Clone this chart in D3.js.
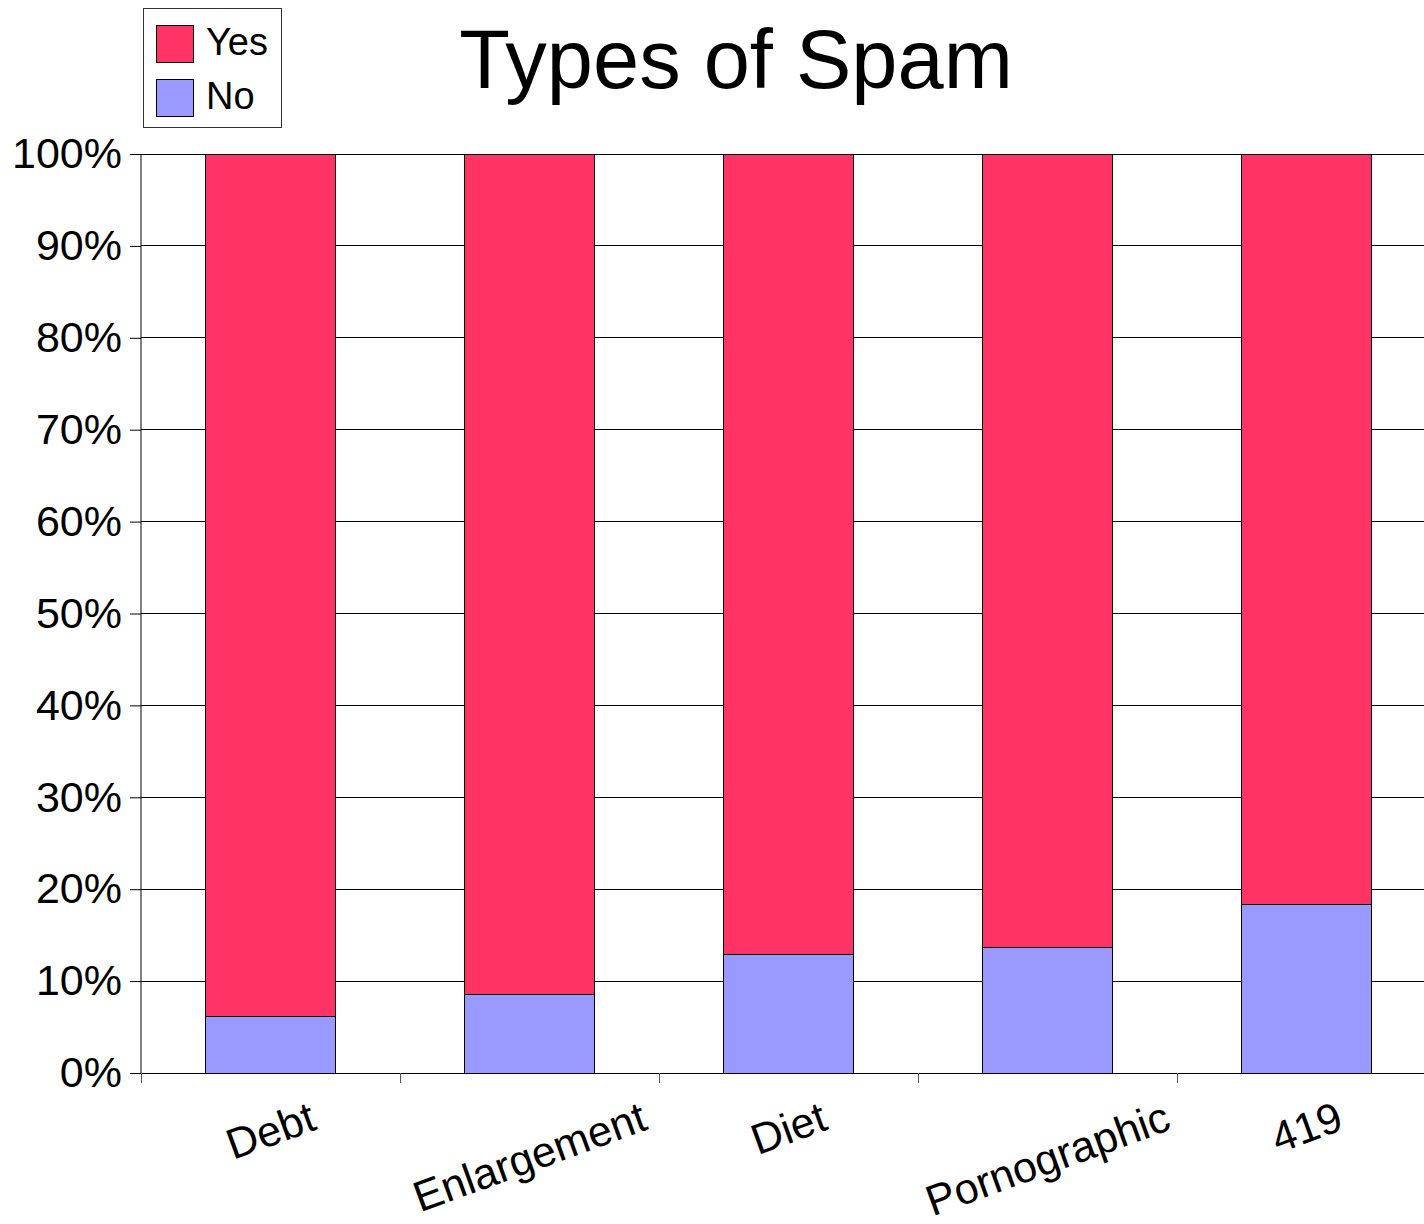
<!DOCTYPE html>
<html><head><meta charset="utf-8">
<script src="https://cdn.jsdelivr.net/npm/d3@7"></script>
<style>body{margin:0;background:#fff;} svg{display:block;font-family:"Liberation Sans",Arial,sans-serif;}</style>
</head><body>
<script>
const categories = ["Debt","Enlargement","Diet","Pornographic","419"];
const noValues = [6.1, 8.5, 12.9, 13.7, 18.3];
const yesValues = [93.9, 91.5, 87.1, 86.3, 81.7];
const seriesNames = ["Yes","No"];
const seriesColors = ["#FF3366","#9999FF"];
const yTicks = [0,10,20,30,40,50,60,70,80,90,100];
const chartTitle = "Types of Spam";

(function(){
const W=1424,H=1224;
const svg=d3.select("body").append("svg").attr("width",W).attr("height",H);
const pL=141, pR=1436, pT=154, pB=1073;
const x=d3.scaleBand().domain(categories).range([pL,pR]).paddingInner(0.5).paddingOuter(0.25);
const y=d3.scaleLinear().domain([0,100]).range([pB,pT]);

// gridlines
svg.append("g").selectAll("line").data(yTicks.filter(d=>d>0)).join("line")
  .attr("x1",pL).attr("x2",W).attr("y1",d=>y(d)).attr("y2",d=>y(d))
  .attr("stroke","#000").attr("stroke-width",1).attr("shape-rendering","crispEdges");

// bars
const rows=categories.map((c,i)=>({cat:c,No:noValues[i],Yes:yesValues[i]}));
const stack=d3.stack().keys(["No","Yes"])(rows);
const color={Yes:seriesColors[0],No:seriesColors[1]};
svg.append("g").selectAll("g").data(stack).join("g").attr("fill",d=>color[d.key])
  .selectAll("rect").data(d=>d).join("rect")
  .attr("x",d=>x(d.data.cat)).attr("width",x.bandwidth())
  .attr("y",d=>y(d[1])).attr("height",d=>y(d[0])-y(d[1]))
  .attr("stroke","#000").attr("stroke-width",1).attr("shape-rendering","crispEdges");

// y axis
const yAxis=d3.axisLeft(y).tickValues(yTicks).tickFormat(d=>d+"%").tickSize(11).tickPadding(8);
const ga=svg.append("g").attr("transform",`translate(${pL},0)`).call(yAxis);
ga.select(".domain").attr("stroke","#000").attr("d",`M0,${pT}V${pB}`);
ga.selectAll(".tick line").attr("stroke","#000");
ga.selectAll("text").attr("font-size",43).attr("fill","#000").attr("font-family","Liberation Sans, Arial, sans-serif");

// x axis baseline and ticks
svg.append("line").attr("x1",pL).attr("x2",W).attr("y1",pB).attr("y2",pB).attr("stroke","#000").attr("shape-rendering","crispEdges");
const step=x.step();
const bounds=d3.range(categories.length+1).map(i=>pL+i*step);
svg.append("g").selectAll("line").data(bounds).join("line")
  .attr("x1",d=>d).attr("x2",d=>d).attr("y1",pB).attr("y2",pB+10)
  .attr("stroke","#555").attr("shape-rendering","crispEdges");

// x labels rotated
const ang=-20, rad=Math.abs(ang)*Math.PI/180;
const lbls=svg.append("g").selectAll("text").data(categories).join("text")
  .attr("font-size",43).attr("text-anchor","middle").attr("dominant-baseline","central").text(d=>d);
lbls.each(function(d){
  const w=this.getComputedTextLength(), h=36;
  const cx=x(d)+x.bandwidth()/2;
  const cy=1098 + (w/2)*Math.sin(rad) + (h/2)*Math.cos(rad);
  d3.select(this).attr("transform",`translate(${cx},${cy}) rotate(${ang})`);
});

// title
svg.append("text").attr("x",736).attr("y",88).attr("text-anchor","middle").attr("font-size",83).text(chartTitle);

// legend
const lg=svg.append("g");
lg.append("rect").attr("x",143.5).attr("y",8.5).attr("width",138).attr("height",119).attr("fill","#fff").attr("stroke","#333");
seriesNames.forEach((s,i)=>{
  lg.append("rect").attr("x",156.5).attr("y",25.5+i*54).attr("width",37).attr("height",37).attr("fill",seriesColors[i]).attr("stroke","#000");
  lg.append("text").attr("x",206).attr("y",55+i*54).attr("font-size",38).text(s);
});
})();
</script>
</body></html>
